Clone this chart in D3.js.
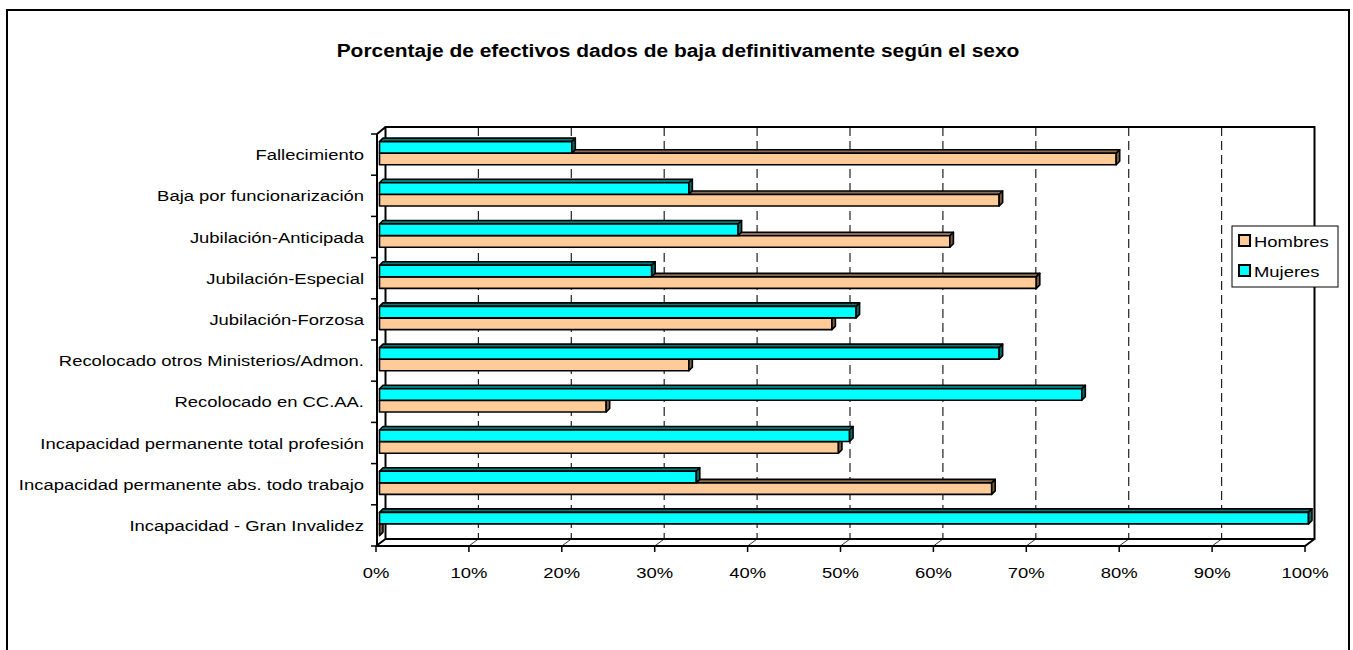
<!DOCTYPE html>
<meta charset="utf-8">
<style>
    html, body { margin: 0; padding: 0; background: #fff; }
    svg { display: block; font-family: "Liberation Sans", Arial, sans-serif; }
</style>
<body>
<svg width="1353" height="650"></svg>
<script src="https://cdn.jsdelivr.net/npm/d3@7"></script>
<script>
    // datos
    const categorias = [
        "Fallecimiento",
        "Baja por funcionarización",
        "Jubilación-Anticipada",
        "Jubilación-Especial",
        "Jubilación-Forzosa",
        "Recolocado otros Ministerios/Admon.",
        "Recolocado en CC.AA.",
        "Incapacidad permanente total profesión",
        "Incapacidad permanente abs. todo trabajo",
        "Incapacidad - Gran Invalidez"
    ];
    const hombres = [79.3, 66.7, 61.4, 70.7, 48.7, 33.3, 24.4, 49.4, 65.9, 0];
    const mujeres = [20.7, 33.3, 38.6, 29.3, 51.3, 66.7, 75.6, 50.6, 34.1, 100];
    const ticksX = [0, 10, 20, 30, 40, 50, 60, 70, 80, 90, 100];
    const series = [
        { name: "Hombres", values: hombres, fill: "#FFCC99", top: "#8a6e52", side: "#7a5c3e" },
        { name: "Mujeres", values: mujeres, fill: "#00FFFF", top: "#007a7a", side: "#006a6a" }
    ];

    const svg = d3.select("svg");
    const DX = 9.5, DY = -7;          // profundidad del grafico 3D
    const BD = 3.5;                   // profundidad de las barras
    const SX = 1.19;                  // el texto original sale estirado en horizontal
    const x = d3.scaleLinear().domain([0, 100]).range([376, 1305]);
    const y = d3.scaleBand().domain(categorias).range([134, 546]);
    const floorY = 546;

    function txt(sel, tx, ty) {
        return sel.attr("transform", `translate(${tx},${ty}) scale(${SX},1)`);
    }

    // marco exterior
    svg.append("rect").attr("x", 7).attr("y", 10).attr("width", 1342).attr("height", 660)
        .attr("fill", "none").attr("stroke", "#000").attr("stroke-width", 2);

    txt(svg.append("text"), 678, 57).attr("text-anchor", "middle")
        .attr("font-size", 17.6).attr("font-weight", "bold")
        .text("Porcentaje de efectivos dados de baja definitivamente según el sexo");

    // pared del fondo y rejilla
    const backTop = y.range()[0] + DY, backBot = floorY + DY;
    svg.selectAll(".grid").data(ticksX.slice(1, -1)).join("line")
        .attr("x1", d => x(d) + DX).attr("x2", d => x(d) + DX)
        .attr("y1", backTop).attr("y2", backBot)
        .attr("stroke", "#222").attr("stroke-width", 1.2).attr("stroke-dasharray", "9,5");
    svg.selectAll(".floorGrid").data(ticksX.slice(1, -1)).join("line")
        .attr("x1", d => x(d)).attr("x2", d => x(d) + DX)
        .attr("y1", floorY).attr("y2", backBot)
        .attr("stroke", "#333").attr("stroke-width", 1);

    const frame = d3.path();
    frame.moveTo(x(0) + DX, backBot); frame.lineTo(x(0) + DX, backTop); frame.lineTo(x(100) + DX, backTop);
    frame.lineTo(x(100) + DX, backBot); frame.lineTo(x(0) + DX, backBot);
    frame.moveTo(x(0), floorY); frame.lineTo(x(100), floorY); frame.lineTo(x(100) + DX, backBot);
    frame.moveTo(x(0), floorY); frame.lineTo(x(0) + DX, backBot);
    frame.moveTo(x(0) + 1, y.range()[0]); frame.lineTo(x(0) + DX, backTop);
    frame.moveTo(x(0) + 1, y.range()[0]); frame.lineTo(x(0) + 1, floorY);
    svg.append("path").attr("d", frame.toString()).attr("fill", "none")
        .attr("stroke", "#000").attr("stroke-width", 2);

    // eje x
    svg.selectAll(".xtick").data(ticksX).join("line")
        .attr("x1", d => x(d)).attr("x2", d => x(d)).attr("y1", floorY).attr("y2", floorY + 6)
        .attr("stroke", "#000").attr("stroke-width", 1.5);
    svg.selectAll(".xlab").data(ticksX).join("text")
        .each(function (d) { txt(d3.select(this), x(d), 578); })
        .attr("text-anchor", "middle").attr("font-size", 15.5).text(d => d + "%");

    // eje y
    const yTicks = categorias.map(c => y(c)).concat([floorY]);
    svg.selectAll(".ytick").data(yTicks).join("line")
        .attr("x1", x(0) - 5).attr("x2", x(0) + 1).attr("y1", d => d).attr("y2", d => d)
        .attr("stroke", "#000").attr("stroke-width", 1.5);
    svg.selectAll(".ylab").data(categorias).join("text")
        .each(function (d) { txt(d3.select(this), 364, y(d) + y.bandwidth() / 2 + 5.5); })
        .attr("text-anchor", "end").attr("font-size", 15.5).text(d => d);

    // barras
    const offs = { Hombres: 19.3, Mujeres: 7.6 };
    const h = 11.5;
    const gBars = svg.append("g").attr("stroke", "#000").attr("stroke-width", 1.6).attr("stroke-linejoin", "round");
    categorias.forEach((c, i) => {
        series.forEach(s => {
            const v = s.values[i];
            const x0 = x(0) + 3.5, x1 = x(v) + 3.5, y0 = y(c) + offs[s.name];
            gBars.append("polygon")
                .attr("points", [[x0, y0], [x0 + BD, y0 - BD], [x1 + BD, y0 - BD], [x1, y0]].join(" "))
                .attr("fill", s.top);
            gBars.append("rect").attr("x", x0).attr("y", y0).attr("width", x1 - x0).attr("height", h)
                .attr("fill", s.fill);
            gBars.append("polygon")
                .attr("points", [[x1, y0], [x1 + BD, y0 - BD], [x1 + BD, y0 + h - BD], [x1, y0 + h]].join(" "))
                .attr("fill", s.side);
        });
    });

    // leyenda
    const lg = svg.append("g");
    lg.append("rect").attr("x", 1232).attr("y", 226).attr("width", 106).attr("height", 61)
        .attr("fill", "#fff").attr("stroke", "#000").attr("stroke-width", 1);
    series.forEach((s, i) => {
        lg.append("rect").attr("x", 1239).attr("y", 235 + i * 30).attr("width", 11).attr("height", 11)
            .attr("fill", s.fill).attr("stroke", "#000").attr("stroke-width", 2);
        txt(lg.append("text"), 1254, 247 + i * 30).attr("font-size", 15.5).text(s.name);
    });
</script>
</body>
